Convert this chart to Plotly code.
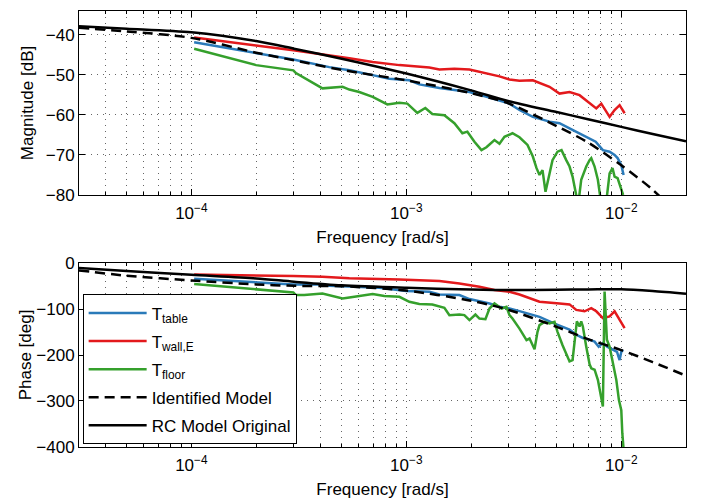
import math
import plotly.graph_objects as go

# ---------------- data ----------------
f_model = [3e-5, 5e-5, 1e-4, 2e-4, 3e-4, 5e-4, 1e-3, 2e-3, 3e-3, 5e-3, 7e-3, 1e-2, 1.4e-2, 2e-2]
rc_mag = [-37.9, -38.5, -39.4, -41.6, -43.5, -46.0, -49.7, -53.9, -56.6, -59.3, -61.1, -63.0, -64.8, -66.6]
rc_phase = [-10.9, -17.2, -25.5, -33.5, -40.7, -48.5, -53.8, -57.5, -58.8, -58.0, -57.5, -57.0, -61.0, -67.0]
id_mag = [-38.3, -39.2, -40.8, -44.5, -46.4, -48.8, -51.4, -54.6, -57.2, -62.8, -66.9, -72.6, -78.7, -87.0]
id_phase = [-16.0, -27.7, -37.9, -46.6, -49.5, -50.5, -60.0, -82.0, -102.0, -138.7, -165.4, -189.3, -215.5, -245.0]

f_table_mag = [1.03e-4, 2.0e-4, 2.98e-4, 4.38e-4, 5.43e-4, 6.97e-4, 8.33e-4, 1.033e-3, 1.149e-3,
               1.425e-3, 1.966e-3, 2.436e-3, 3.018e-3, 3.36e-3, 3.877e-3, 4.634e-3, 5.159e-3,
               5.745e-3, 6.395e-3, 7.119e-3, 7.6e-3, 8.21e-3, 8.823e-3, 9.307e-3, 9.61e-3, 1.0e-2, 1.025e-2]
table_mag = [-41.9, -44.7, -46.2, -48.1, -48.9, -50.1, -51.0, -51.4, -52.4,
             -53.3, -54.3, -55.7, -57.2, -58.8, -60.5, -61.7, -62.1,
             -63.4, -64.6, -65.9, -66.7, -68.8, -69.2, -70.0, -70.8, -72.5, -75.0]

f_wall_mag = [1.03e-4, 2.0e-4, 2.98e-4, 5.43e-4, 6.97e-4, 9.28e-4, 1.279e-3, 1.425e-3, 1.673e-3,
              1.966e-3, 2.188e-3, 2.712e-3, 3.018e-3, 3.36e-3, 3.877e-3, 4.634e-3, 5.159e-3,
              5.745e-3, 6.395e-3, 6.8e-3, 7.119e-3, 7.65e-3, 8.07e-3, 8.515e-3, 8.823e-3,
              9.307e-3, 9.82e-3, 1.036e-2]
wall_mag = [-40.7, -42.7, -43.9, -45.9, -46.8, -47.6, -48.2, -48.7, -48.5,
            -48.7, -49.3, -50.4, -51.2, -51.5, -51.4, -53.0, -54.7,
            -54.3, -55.1, -56.3, -57.2, -58.4, -57.2, -59.3, -60.5,
            -58.8, -57.6, -59.6]

f_floor_mag = [1.03e-4, 2.0e-4, 2.98e-4, 3.064e-4, 4.074e-4, 5.05e-4, 5.43e-4, 6.04e-4, 6.97e-4, 8.16e-4,
               9.28e-4, 1.011e-3, 1.125e-3, 1.225e-3, 1.321e-3, 1.503e-3, 1.673e-3, 1.823e-3, 1.923e-3, 2.074e-3,
               2.236e-3, 2.358e-3, 2.57e-3, 2.712e-3, 2.861e-3, 3.117e-3, 3.36e-3, 3.662e-3, 3.877e-3, 4.033e-3,
               4.164e-3, 4.3e-3, 4.441e-3, 4.634e-3, 4.786e-3, 5.05e-3, 5.272e-3, 5.545e-3, 5.745e-3, 5.933e-3,
               6.127e-3, 6.3e-3, 6.51e-3, 6.871e-3, 7.119e-3, 7.25e-3, 7.512e-3, 7.78e-3, 7.97e-3, 8.2e-3,
               8.5e-3, 8.823e-3, 9.1e-3, 9.307e-3, 9.61e-3, 1.0e-2, 1.02e-2]
floor_mag = [-43.5, -47.6, -48.9, -49.6, -53.4, -53.0, -53.7, -54.3, -55.5, -57.4,
             -57.0, -57.2, -59.5, -58.3, -59.8, -60.1, -62.1, -64.6, -64.2, -66.7,
             -68.8, -68.1, -66.3, -67.2, -65.5, -64.6, -65.6, -67.5, -70.4, -73.3,
             -75.0, -73.8, -79.2, -74.2, -71.3, -69.2, -68.8, -71.3, -72.9, -75.4,
             -78.7, -82.5, -76.2, -72.9, -71.3, -70.8, -72.9, -76.2, -80.2, -84.0,
             -82.0, -74.6, -73.3, -75.4, -75.8, -78.7, -80.0]

f_table_ph = [1.03e-4, 2.0e-4, 2.98e-4, 4.07e-4, 4.38e-4, 5.43e-4, 7.48e-4, 1.0e-3, 1.279e-3, 1.425e-3,
              1.766e-3, 1.966e-3, 2.436e-3, 2.712e-3, 3.018e-3, 3.36e-3, 4.164e-3, 4.89e-3, 5.545e-3, 5.745e-3,
              6.173e-3, 6.625e-3, 7.119e-3, 7.512e-3, 7.85e-3, 8.21e-3, 8.6e-3, 9.14e-3, 9.55e-3, 9.82e-3,
              1.0e-2, 1.02e-2]
table_ph = [-34, -42.2, -46.6, -46.6, -49.5, -51, -53.8, -61, -62.5, -68.4,
            -69.7, -78.4, -88, -95.2, -99, -104.6, -117, -131.6, -142.5, -145,
            -156, -163, -167, -171, -182, -174, -182, -189, -193, -211,
            -193, -189]

f_wall_ph = [1.03e-4, 2.0e-4, 2.98e-4, 4.07e-4, 5.43e-4, 9.28e-4, 1.425e-3, 1.766e-3, 2.188e-3, 2.57e-3,
             3.018e-3, 3.36e-3, 4.164e-3, 5.159e-3, 5.745e-3, 6.173e-3, 6.747e-3, 7.25e-3, 7.65e-3, 8.21e-3,
             8.823e-3, 9.307e-3, 9.82e-3, 1.036e-2]
wall_ph = [-24.8, -26.2, -28.3, -29.8, -33, -35.7, -39.2, -44.4, -51.6, -58.8,
           -62.5, -68.4, -84.3, -88, -90, -102, -105, -98, -105, -120,
           -116, -105, -123.5, -141.6]

f_floor_ph = [1.03e-4, 2.0e-4, 2.98e-4, 3.064e-4, 3.35e-4, 4.07e-4, 5.05e-4, 5.43e-4, 6.04e-4, 6.97e-4,
              7.9e-4, 9.28e-4, 1.033e-3, 1.149e-3, 1.321e-3, 1.503e-3, 1.586e-3, 1.766e-3, 1.862e-3, 1.966e-3,
              2.096e-3, 2.188e-3, 2.333e-3, 2.436e-3, 2.57e-3, 2.771e-3, 2.922e-3, 3.018e-3, 3.117e-3, 3.36e-3,
              3.623e-3, 3.742e-3, 3.948e-3, 4.076e-3, 4.164e-3, 4.394e-3, 4.634e-3, 4.89e-3, 5.05e-3, 5.33e-3,
              5.745e-3, 5.933e-3, 6.213e-3, 6.395e-3, 6.51e-3, 6.625e-3, 6.871e-3, 7.119e-3, 7.25e-3, 7.512e-3,
              7.78e-3, 7.925e-3, 8.07e-3, 8.21e-3, 8.362e-3, 8.57e-3, 8.823e-3, 9.14e-3, 9.48e-3, 9.75e-3,
              1.0e-2, 1.011e-2, 1.031e-2]
floor_ph = [-45.8, -56.6, -64, -69.7, -69.7, -66.2, -77.1, -75, -71.2, -67.5,
            -71.9, -73.4, -84.3, -89.3, -90.2, -97.4, -113.3, -112, -113.3, -124.2,
            -112, -120.7, -122, -99, -88, -99, -95.2, -113, -120.7, -142.5,
            -167.8, -164.3, -187.4, -149.7, -135, -128, -131.6, -128, -149.7, -178.6,
            -214, -211.3, -127, -138, -127, -138, -182, -220, -229, -232,
            -254, -276, -298, -312, -62, -167, -182, -218, -254, -298,
            -320, -370, -420]

names = ["T<sub>table</sub>", "T<sub>wall,E</sub>", "T<sub>floor</sub>",
         "Identified Model", "RC Model Original"]
x_tick_vals = [1e-4, 1e-3, 1e-2]
x_tick_text = ["10<sup>\u22124</sup>", "10<sup>\u22123</sup>", "10<sup>\u22122</sup>"]

# ---------------- styles ----------------
BLUE = "#2a7ab9"
RED = "#e3191c"
GREEN = "#35a02c"
FONT = "Liberation Sans, Arial, Helvetica, sans-serif"
LW = 2.5

fig = go.Figure()

def add_set(fx, yx, suffix, legend):
    data = [
        (fx[0], yx[0], BLUE, "solid", names[0]),
        (fx[1], yx[1], RED, "solid", names[1]),
        (fx[2], yx[2], GREEN, "solid", names[2]),
        (f_model, yx[3], "black", "10px,6px", names[3]),
        (f_model, yx[4], "black", "solid", names[4]),
    ]
    for i, (xs, ys, col, dash, nm) in enumerate(data):
        fig.add_trace(go.Scatter(
            x=xs, y=ys, mode="lines", name=nm, legendgroup="g%d" % i,
            line=dict(color=col, width=LW, dash=dash,
                      shape="spline" if xs is f_model else "linear", smoothing=0.8),
            xaxis="x" + suffix, yaxis="y" + suffix, showlegend=legend,
        ))

add_set([f_table_mag, f_wall_mag, f_floor_mag],
        [table_mag, wall_mag, floor_mag, id_mag, rc_mag], "", False)
add_set([f_table_ph, f_wall_ph, f_floor_ph],
        [table_ph, wall_ph, floor_ph, id_phase, rc_phase], "2", True)

minor_vals = [m * 10 ** e for e in (-5, -4, -3, -2) for m in range(2, 10)
              if 3e-5 <= m * 10 ** e <= 2e-2]
GRID = "rgba(0,0,0,0.6)"
GDASH = "1px,5px"

def xaxis(domain_anchor):
    return dict(
        type="log", range=[math.log10(3e-5), math.log10(2e-2)],
        tickvals=x_tick_vals, ticktext=x_tick_text,
        ticks="inside", ticklen=6, tickcolor="black", ticklabelstandoff=3,
        showline=True, linecolor="black", linewidth=1, mirror="ticks",
        showgrid=True, gridcolor=GRID, griddash=GDASH, gridwidth=1,
        minor=dict(tickvals=minor_vals, ticks="inside", ticklen=3, tickcolor="black",
                   showgrid=True, gridcolor=GRID, griddash=GDASH, gridwidth=1),
        zeroline=False, anchor=domain_anchor, automargin=False,
        tickfont=dict(size=17, color="black"),
        title=dict(text="Frequency [rad/s]", font=dict(size=17, color="black"), standoff=8),
    )

def yaxis(rng, vals, domain, title, anchor, standoff):
    return dict(
        range=rng, tickvals=vals, domain=domain, anchor=anchor, automargin=False,
        ticks="inside", ticklen=6, tickcolor="black",
        showline=True, linecolor="black", linewidth=1, mirror="ticks",
        showgrid=True, gridcolor=GRID, griddash=GDASH, gridwidth=1,
        zeroline=False, tickfont=dict(size=17, color="black"),
        title=dict(text=title, font=dict(size=17, color="black"), standoff=standoff),
    )

# the page body adds an 8px offset, so the figure is sized/margined to compensate
fig.update_layout(
    width=697, height=492,
    margin=dict(l=71, r=19, t=3, b=53),
    paper_bgcolor="white", plot_bgcolor="white",
    font=dict(family=FONT, size=17, color="black"),
    xaxis=xaxis("y"),
    yaxis=yaxis([-80, -34.1], [-80, -70, -60, -50, -40], [0.578, 1.0], "Magnitude [dB]", "x", 7),
    xaxis2=xaxis("y2"),
    yaxis2=yaxis([-400, 0], [-400, -300, -200, -100, 0], [0.0, 0.422], "Phase [deg]", "x2", 0),
    legend=dict(x=0.006, y=0.35, xanchor="left", yanchor="top",
                bgcolor="white", bordercolor="black", borderwidth=1, itemwidth=58,
                font=dict(size=17, color="black"), tracegroupgap=3),
    showlegend=True,
)

fig.write_html("out.html")
